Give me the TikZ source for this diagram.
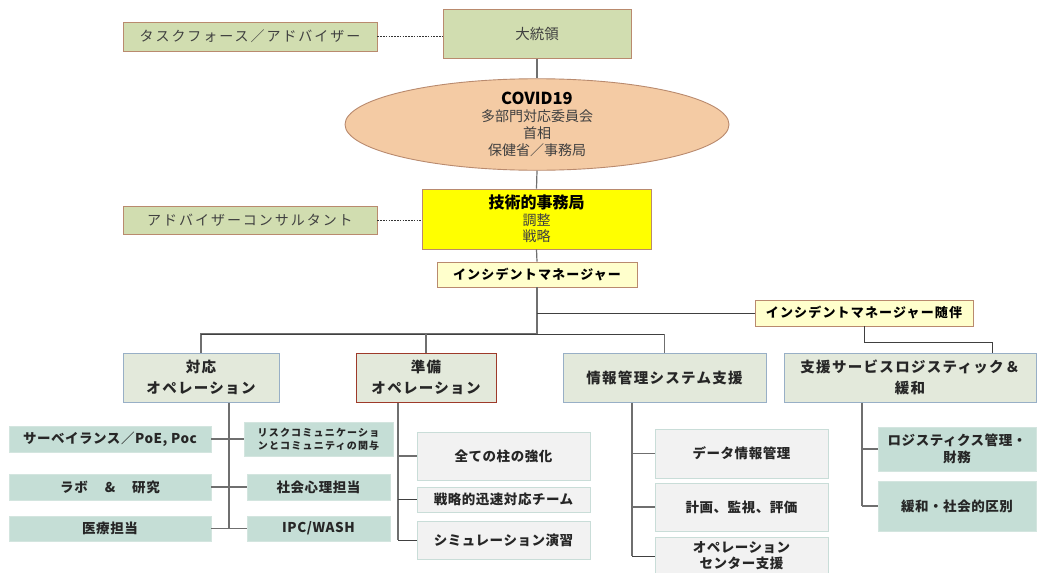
\documentclass[tikz,border=0pt]{standalone}
\usepackage{fontspec}
\setmainfont{Noto Sans CJK JP}
\newfontfamily\jpsp[LetterSpace=14]{Noto Sans CJK JP}
\newfontfamily\jpspb[LetterSpace=9]{Noto Sans CJK JP}
\newfontfamily\jpsps[LetterSpace=4]{Noto Sans CJK JP}
\newfontfamily\jpsmall[LetterSpace=12]{Noto Sans CJK JP}
\usetikzlibrary{shapes.geometric}
\definecolor{grnfill}{HTML}{D1DDB0}
\definecolor{brn}{HTML}{B98A6E}
\definecolor{peach}{HTML}{F4CBA4}
\definecolor{ylw}{HTML}{FFFF00}
\definecolor{lylw}{HTML}{FFFFCC}
\definecolor{opfill}{HTML}{E3E9DB}
\definecolor{opblue}{HTML}{98AFC6}
\definecolor{opred}{HTML}{9E3A2A}
\definecolor{tealbox}{HTML}{C5DED6}
\definecolor{tealline}{HTML}{D3E5DF}
\definecolor{grayfill}{HTML}{F2F2F2}
\definecolor{grayline}{HTML}{C9DDD8}
\definecolor{txt}{HTML}{404040}
\definecolor{dtxt}{HTML}{262626}
\definecolor{conncol}{HTML}{6F6F6F}
\tikzset{
  box/.style={draw, inner sep=0pt, align=center, line width=0.9pt},
  gbox/.style={box, fill=grnfill, draw=brn, text=txt, font=\jpsp\fontsize{14}{17}\selectfont},
  ibox/.style={box, fill=lylw, draw=brn, text=black, font=\jpspb\bfseries\fontsize{13}{16}\selectfont},
  opbox/.style={box, fill=opfill, draw=opblue, text=dtxt, line width=1pt, font=\jpspb\bfseries\fontsize{14.5}{21}\selectfont},
  tbox/.style={box, fill=tealbox, draw=tealline, text=dtxt, font=\jpsps\bfseries\fontsize{13.5}{17}\selectfont},
  graybox/.style={box, fill=grayfill, draw=grayline, text=dtxt, font=\jpsps\bfseries\fontsize{13.5}{16}\selectfont},
  conn/.style={draw=conncol, line width=1.2pt},
  hconn/.style={draw=black!75, line width=1pt},
  dotline/.style={draw=black!80, line width=0.8pt, dash pattern=on 1.6pt off 1.2pt}
}
\begin{document}
\begin{tikzpicture}[x=1pt,y=-1pt]
\useasboundingbox (0,0) rectangle (1037,573);
\fill[white] (0,0) rectangle (1037,573);
\clip (0,0) rectangle (1037,573);

% top
\node[gbox, minimum width=254pt, minimum height=29pt] (task) at (250,36.5) {タスクフォース／アドバイザー};
\node[gbox, font=\fontsize{14.5}{17}\selectfont, minimum width=188pt, minimum height=48.5pt] (pres) at (537,34) {大統領};
\node[ellipse, draw=brn, fill=peach, line width=0.9pt, inner sep=0pt, minimum width=384pt, minimum height=87pt, align=center, text=txt, font=\fontsize{14}{17}\selectfont] (cov) at (537,124.5)
  {{\bfseries\color{black}\fontsize{16.5}{19}\selectfont COVID19}\\多部門対応委員会\\首相\\保健省／事務局};
\node[box, fill=ylw, draw=brn, text=txt, minimum width=229pt, minimum height=60pt, font=\fontsize{14}{16.5}\selectfont] (tech) at (536.5,219)
  {{\bfseries\color{black}\fontsize{16}{19}\selectfont 技術的事務局}\\調整\\戦略};
\node[gbox, minimum width=254pt, minimum height=28pt] (adv) at (250,220) {アドバイザーコンサルタント};
\node[ibox, minimum width=200pt, minimum height=25pt] (im) at (537,274.5) {インシデントマネージャー};
\node[ibox, minimum width=218pt, minimum height=26pt] (imc) at (864,313) {インシデントマネージャー随伴};

% operations
\node[opbox, minimum width=156pt, minimum height=49pt] (op1) at (201,377.5) {対応\\オペレーション};
\node[opbox, draw=opred, minimum width=140pt, minimum height=49pt] (op2) at (426,377.5) {準備\\オペレーション};
\node[opbox, minimum width=203pt, minimum height=49pt] (op3) at (664.5,377.5) {情報管理システム支援};
\node[opbox, minimum width=252pt, minimum height=49pt] (op4) at (910,377.5) {支援サービスロジスティック＆\\緩和};

% left group
\node[tbox, minimum width=202pt, minimum height=26pt] (surv) at (110,439) {サーベイランス／PoE, Poc};
\node[tbox, minimum width=202pt, minimum height=26pt] (lab) at (110,487) {ラボ\hspace{17pt}\&\hspace{17pt}研究};
\node[tbox, minimum width=202pt, minimum height=25pt] (med) at (110,528.5) {医療担当};
\node[tbox, font=\jpsmall\bfseries\fontsize{10}{13}\selectfont, minimum width=149pt, minimum height=34pt] (risk) at (318.5,439) {リスクコミュニケーショ\\ンとコミュニティの関与};
\node[tbox, minimum width=143pt, minimum height=26pt] (psy) at (318.5,487) {社会心理担当};
\node[tbox, minimum width=143pt, minimum height=25pt] (ipc) at (318.5,528.5) {IPC/WASH};

% middle group
\node[graybox, minimum width=173pt, minimum height=48pt] (g1) at (503.5,456) {全ての柱の強化};
\node[graybox, minimum width=173pt, minimum height=25pt] (g2) at (503.5,499.5) {戦略的迅速対応チーム};
\node[graybox, minimum width=173pt, minimum height=38pt] (g3) at (503.5,540) {シミュレーション演習};

% info group
\node[graybox, minimum width=173pt, minimum height=49pt] (d1) at (741.5,453.5) {データ情報管理};
\node[graybox, minimum width=173pt, minimum height=48pt] (d2) at (741.5,507) {計画、監視、評価};
\node[graybox, minimum width=173pt, minimum height=38pt] (d3) at (741.5,556) {オペレーション\\センター支援};

% logistics group
\node[tbox, minimum width=158pt, minimum height=44pt] (l1) at (957,449) {ロジスティクス管理・\\財務};
\node[tbox, minimum width=158pt, minimum height=50pt] (l2) at (957,506) {緩和・社会的区別};

% connectors
\draw[dotline] (task.east) -- (task.east -| pres.west);
\draw[dotline] (adv.east) -- (adv.east -| tech.west);
\draw[conn] (pres.south) -- (cov.north);
\draw[conn] (cov.south) -- (tech.north);
\draw[conn] (tech.south) -- (im.north);
\coordinate (bus) at (537,334);
\draw[conn] (im.south) -- (bus);
\draw[hconn] (im.south |- imc.west) -- (imc.west);
\draw[conn] (op1.north) |- (bus);
\draw[hconn] (op1.north |- bus) -- (op3.north |- bus);
\draw[conn] (op3.north) -- (op3.north |- bus);
\draw[conn] (op2.north) -- (op2.north |- bus);
\coordinate (e2) at (992,342);
\draw[hconn] (imc.south) |- (e2) -- (e2 |- op4.north);

\coordinate (s1) at (229,528.5);
\draw[conn] (s1 |- op1.south) -- (s1);
\draw[conn] (surv.east) -- (risk.west);
\draw[conn] (lab.east) -- (psy.west);
\draw[conn] (med.east) -- (ipc.west);

\coordinate (s2) at (398,540);
\draw[conn] (s2 |- op2.south) -- (s2);
\draw[conn] (s2 |- g1.west) -- (g1.west);
\draw[hconn] (s2 |- g2.west) -- (g2.west);
\draw[hconn] (s2) -- (g3.west);

\coordinate (s3) at (632,556);
\draw[conn] (s3 |- op3.south) -- (s3);
\draw[conn] (s3 |- d1.west) -- (d1.west);
\draw[conn] (s3 |- d2.west) -- (d2.west);
\draw[hconn] (s3) -- (d3.west);

\coordinate (s4) at (862,506);
\draw[conn] (s4 |- op4.south) -- (s4);
\draw[conn] (s4 |- l1.west) -- (l1.west);
\draw[conn] (s4) -- (l2.west);
\end{tikzpicture}
\end{document}
